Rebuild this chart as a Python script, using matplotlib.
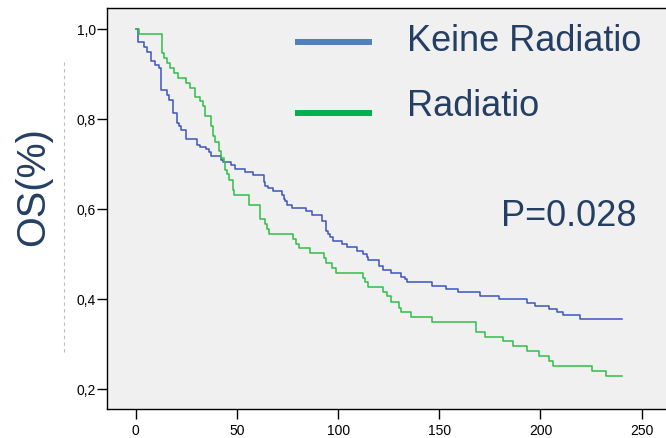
import matplotlib
matplotlib.use("Agg")
import matplotlib.pyplot as plt
from matplotlib.lines import Line2D

# Kaplan-Meier steps (months, survival after each drop)
t_keine = [0, 1.1, 3.9, 5.8, 7.8, 9.8, 11.3, 12.6, 15.6, 16.6, 18.6, 20.6, 21.6, 22.5,
           25.0, 30.4, 31.9, 34.8, 36.0, 37.1, 42.1, 43.4, 47.0, 49.2, 54.1, 58.2,
           63.2, 64.0, 65.2, 68.1, 72.2, 73.1, 74.0, 75.0, 77.2, 84.2, 87.0, 92.3,
           94.1, 94.9, 96.1, 97.4, 102.1, 104.3, 109.2, 112.5, 114.1, 115.0, 120.2,
           122.0, 126.3, 131.0, 133.1, 134.0, 146.3, 153.2, 159.2, 170.2, 179.3,
           193.3, 197.1, 204.3, 208.1, 211.1, 219.3, 240.2]
s_keine = [1.0, 0.972, 0.961, 0.950, 0.928, 0.920, 0.913, 0.865, 0.854, 0.843, 0.813,
           0.791, 0.784, 0.776, 0.756, 0.743, 0.739, 0.733, 0.726, 0.719, 0.710, 0.704,
           0.698, 0.690, 0.683, 0.675, 0.660, 0.652, 0.646, 0.640, 0.632, 0.623, 0.617,
           0.610, 0.603, 0.595, 0.588, 0.573, 0.551, 0.544, 0.538, 0.530, 0.523, 0.516,
           0.508, 0.501, 0.494, 0.487, 0.474, 0.465, 0.457, 0.450, 0.444, 0.437, 0.429,
           0.422, 0.415, 0.407, 0.400, 0.392, 0.385, 0.378, 0.372, 0.364, 0.357, 0.357]

t_radiatio = [0, 1.9, 12.9, 14.1, 15.4, 17.0, 19.0, 21.0, 25.0, 26.9, 29.4, 31.9, 33.4,
              34.2, 37.3, 38.1, 39.3, 41.3, 42.1, 43.7, 44.2, 45.0, 46.2, 48.0, 48.8,
              56.1, 61.2, 64.0, 64.9, 65.9, 77.9, 79.1, 80.9, 86.2, 93.1, 93.9, 96.9,
              98.9, 112.1, 113.1, 115.0, 122.1, 124.1, 126.1, 130.2, 131.0, 136.1,
              146.3, 168.3, 172.4, 181.3, 186.4, 193.3, 199.4, 204.3, 206.1, 225.4,
              232.4, 240.2]
s_radiatio = [1.0, 0.990, 0.946, 0.935, 0.925, 0.913, 0.903, 0.892, 0.881, 0.870, 0.849,
              0.839, 0.828, 0.806, 0.784, 0.763, 0.750, 0.730, 0.714, 0.705, 0.686, 0.677,
              0.664, 0.643, 0.631, 0.610, 0.579, 0.566, 0.556, 0.545, 0.534, 0.523, 0.513,
              0.502, 0.492, 0.481, 0.470, 0.459, 0.448, 0.437, 0.426, 0.415, 0.406, 0.394,
              0.381, 0.372, 0.361, 0.350, 0.327, 0.317, 0.306, 0.296, 0.285, 0.274, 0.262,
              0.252, 0.241, 0.230, 0.230]

labels = ["Keine Radiatio", "Radiatio"]
x_ticks = [0, 50, 100, 150, 200, 250]
y_ticks = [0.2, 0.4, 0.6, 0.8, 1.0]
p_text = "P=0.028"

plt.rcParams["font.family"] = ["Liberation Sans", "DejaVu Sans"]
navy = "#243f63"

fig = plt.figure(figsize=(6.66, 4.38), dpi=100)
ax = fig.add_axes([107.3 / 666, 1 - 409 / 438, 1 - 107.3 / 666, (409 - 8.3) / 438])
ax.set_facecolor("#f0f0f0")

ax.step(t_keine, s_keine, where="post", color="#3c55be", lw=1.1)
ax.step(t_radiatio, s_radiatio, where="post", color="#30be48", lw=1.1)

ax.set_xlim(-14.0, 262.0)
ax.set_ylim(0.156, 1.046)
ax.set_xticks(x_ticks)
ax.set_yticks(y_ticks)
ax.set_yticklabels([f"{v:.1f}".replace(".", ",") for v in y_ticks])
ax.tick_params(direction="out", length=7, width=1, labelsize=10, colors="black")
ax.tick_params(axis="y", pad=1)
ax.tick_params(axis="x", pad=4)
for side in ["left", "bottom", "top"]:
    ax.spines[side].set_linewidth(1)
ax.spines["right"].set_visible(False)

# legend drawn by hand, like the slide
def px(x, y):
    return x / 666, 1 - y / 438

for (yl, yt, lab, col) in [(42, 50.7, labels[0], "#4f81bd"), (112.7, 116, labels[1], "#00b050")]:
    (x0, y0), (x1, _) = px(295, yl), px(372.3, yl)
    fig.add_artist(Line2D([x0, x1], [y0, y0], color=col, lw=4.3, solid_capstyle="butt"))
    fig.text(*px(407, yt), lab, fontsize=26, color=navy, va="baseline", ha="left")

fig.text(*px(501, 226), p_text, fontsize=26, color=navy, va="baseline", ha="left")
fig.text(*px(33, 187), "OS(%)", fontsize=28.5, color=navy, rotation=90,
         va="center", ha="center")

# faint dashed guide next to the y label
fig.add_artist(Line2D([64 / 666, 64 / 666], [1 - 62 / 438, 1 - 352 / 438],
                      color="#bdbdbd", lw=0.8, ls=(0, (3, 3))))

fig.savefig("out.png", dpi=100)
